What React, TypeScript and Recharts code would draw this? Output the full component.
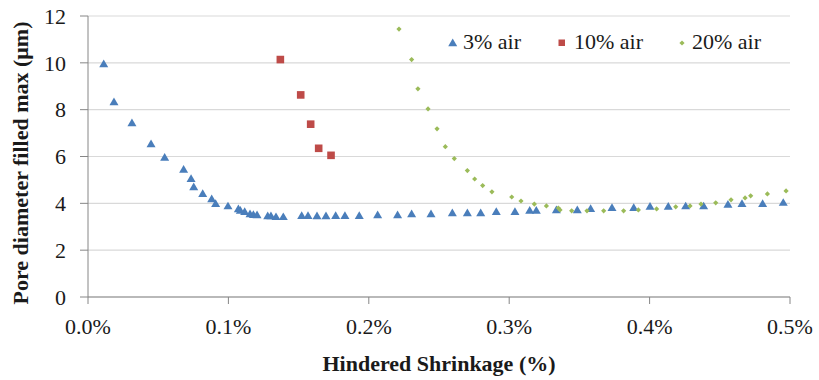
import { ScatterChart, Scatter, XAxis, YAxis, CartesianGrid } from 'recharts'

const xTicks = [0, 0.1, 0.2, 0.3, 0.4, 0.5]
const yTicks = [0, 2, 4, 6, 8, 10, 12]

// 3% air
const air3X = [
  0.0112, 0.0185, 0.0313, 0.0449, 0.0546, 0.0681, 0.0734, 0.0753, 0.0817, 0.0881,
  0.0909, 0.0997, 0.1071, 0.1085, 0.1116, 0.1154, 0.1178, 0.1204, 0.128, 0.1303,
  0.1339, 0.1391, 0.1522, 0.1567, 0.1631, 0.1695, 0.1764, 0.183, 0.1932, 0.2063,
  0.2205, 0.2305, 0.2443, 0.2595, 0.2702, 0.2797, 0.2908, 0.3041, 0.3146, 0.3193,
  0.3336, 0.3485, 0.358, 0.3732, 0.3887, 0.4003, 0.4133, 0.4257, 0.4385, 0.4558,
  0.4658, 0.4805, 0.4952,
]
const air3Y = [
  9.95, 8.33, 7.43, 6.53, 5.96, 5.44, 5.05, 4.7, 4.41, 4.18,
  3.98, 3.88, 3.76, 3.69, 3.64, 3.54, 3.51, 3.5, 3.46, 3.46,
  3.42, 3.42, 3.47, 3.47, 3.46, 3.46, 3.47, 3.47, 3.47, 3.5,
  3.5, 3.54, 3.54, 3.59, 3.59, 3.59, 3.64, 3.64, 3.69, 3.69,
  3.71, 3.71, 3.77, 3.81, 3.81, 3.86, 3.86, 3.88, 3.88, 3.95,
  3.98, 3.98, 4.03,
]

// 10% air
const air10X = [0.137, 0.1515, 0.1586, 0.1643, 0.1731]
const air10Y = [10.14, 8.63, 7.38, 6.35, 6.05]

// 20% air
const air20X = [
  0.2215, 0.2305, 0.235, 0.2422, 0.2486, 0.2545, 0.2609, 0.2702, 0.2754, 0.2811,
  0.2877, 0.3018, 0.3084, 0.3179, 0.3265, 0.335, 0.3362, 0.3445, 0.3554, 0.3673,
  0.3815, 0.392, 0.405, 0.4186, 0.4288, 0.4366, 0.4471, 0.458, 0.468, 0.472,
  0.4839, 0.4972,
]
const air20Y = [
  11.44, 10.14, 8.89, 8.03, 7.18, 6.42, 5.91, 5.4, 5.04, 4.76,
  4.49, 4.27, 4.1, 3.97, 3.89, 3.8, 3.72, 3.68, 3.68, 3.68,
  3.68, 3.72, 3.76, 3.85, 3.89, 3.97, 4.02, 4.15, 4.23, 4.32,
  4.4, 4.53,
]

const toPoints = (xs: number[], ys: number[]) => xs.map((x, i) => ({ x, y: ys[i] }))

const BLUE = '#4a7ebb'
const RED = '#be4b48'
const GREEN = '#9bbb59'
const FONT = '"Liberation Serif", "Times New Roman", serif'

function Triangle({ cx, cy }: any) {
  return <polygon points={`${cx},${cy - 4.5} ${cx + 4.5},${cy + 3.2} ${cx - 4.5},${cy + 3.2}`} fill={BLUE} />
}

function Square({ cx, cy }: any) {
  return <rect x={cx - 3.8} y={cy - 3.8} width={7.6} height={7.6} fill={RED} />
}

function Diamond({ cx, cy }: any) {
  return <polygon points={`${cx},${cy - 2.6} ${cx + 2.6},${cy} ${cx},${cy + 2.6} ${cx - 2.6},${cy}`} fill={GREEN} />
}

function ChartLegend() {
  return (
    <svg width={819} height={70} style={{ position: 'absolute', left: 0, top: 0, pointerEvents: 'none' }}>
      <Triangle cx={452.7} cy={43} />
      <text x={463} y={48.5} fontSize={22} fontFamily={FONT} fill="#1a1a1a">3% air</text>
      <rect x={558.5} y={39.5} width={6.5} height={6.5} fill={RED} />
      <text x={574} y={48.5} fontSize={22} fontFamily={FONT} fill="#1a1a1a">10% air</text>
      <Diamond cx={682} cy={43} />
      <text x={692} y={48.5} fontSize={22} fontFamily={FONT} fill="#1a1a1a">20% air</text>
    </svg>
  )
}

export default function App() {
  const tickStyle = { fontSize: 22, fill: '#1a1a1a', fontFamily: FONT }
  return (
    <div style={{ position: 'absolute', left: 0, top: 0, width: 819, height: 380, background: '#fff' }}>
      <ScatterChart width={819} height={380} margin={{ top: 16, right: 29, bottom: 0, left: 0 }}>
        <CartesianGrid vertical={false} stroke="#d9d9d9" strokeWidth={1.2} />
        <XAxis
          type="number"
          dataKey="x"
          domain={[0, 0.5]}
          ticks={xTicks}
          tickFormatter={(v: number) => `${v.toFixed(1)}%`}
          tick={tickStyle}
          height={83}
          tickSize={7}
          tickMargin={14}
          stroke="#868686"
          label={{
            content: () => (
              <text x={439} y={371} textAnchor="middle" fontSize={22} fontWeight="bold" fontFamily={FONT} fill="#1a1a1a">
                Hindered Shrinkage (%)
              </text>
            ),
          }}
        />
        <YAxis
          type="number"
          dataKey="y"
          domain={[0, 12]}
          ticks={yTicks}
          tick={tickStyle}
          width={88}
          tickSize={8}
          tickMargin={14}
          stroke="#868686"
          label={{
            content: () => (
              <text
                x={28}
                y={163}
                transform="rotate(-90 28 163)"
                textAnchor="middle"
                fontSize={22}
                fontWeight="bold"
                fontFamily={FONT}
                fill="#1a1a1a"
              >
                Pore diameter filled max (μm)
              </text>
            ),
          }}
        />
        <Scatter name="3% air" data={toPoints(air3X, air3Y)} shape={<Triangle />} isAnimationActive={false} />
        <Scatter name="10% air" data={toPoints(air10X, air10Y)} shape={<Square />} isAnimationActive={false} />
        <Scatter name="20% air" data={toPoints(air20X, air20Y)} shape={<Diamond />} isAnimationActive={false} />
      </ScatterChart>
      <ChartLegend />
    </div>
  )
}
